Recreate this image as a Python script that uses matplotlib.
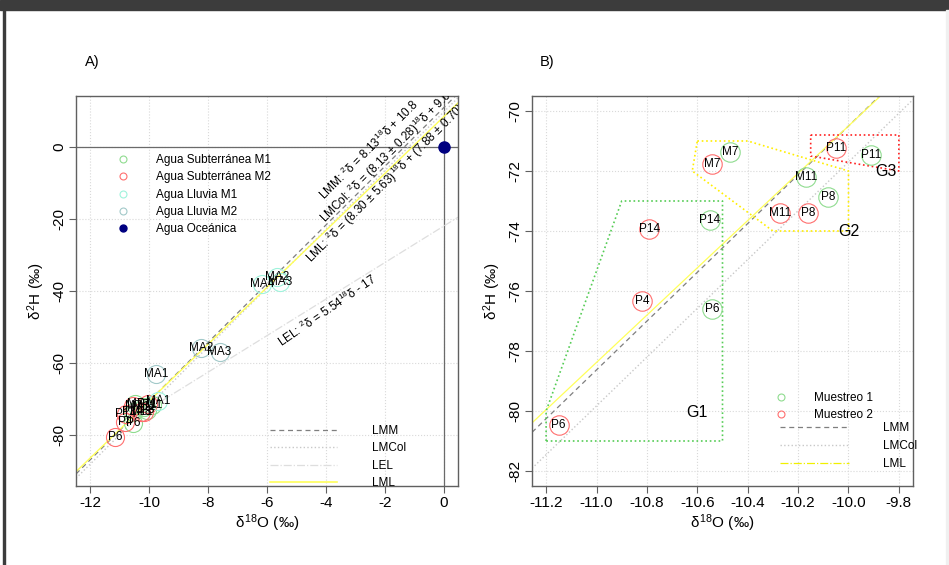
import matplotlib
matplotlib.use("Agg")
import matplotlib.pyplot as plt
from matplotlib.lines import Line2D
from matplotlib.patches import Rectangle
import numpy as np

plt.rcParams['font.family'] = ['Liberation Sans', 'DejaVu Sans']
plt.rcParams['mathtext.fontset'] = 'custom'
plt.rcParams['mathtext.rm'] = 'Liberation Sans'
plt.rcParams['mathtext.it'] = 'Liberation Sans'
plt.rcParams['axes.unicode_minus'] = False

# --- datos: agua subterranea (muestreo 1 y 2)
gw_m1_lab = ['M7', 'M11', 'P8', 'P11', 'P14', 'P6']
gw_m1_x = [-10.47, -10.17, -10.08, -9.91, -10.55, -10.54]
gw_m1_y = [-71.36, -72.19, -72.86, -71.47, -73.63, -76.6]

gw_m2_lab = ['M7', 'M11', 'P8', 'P11', 'P14', 'P4', 'P6']
gw_m2_x = [-10.54, -10.27, -10.16, -10.05, -10.79, -10.82, -11.15]
gw_m2_y = [-71.78, -73.39, -73.41, -71.24, -73.94, -76.32, -80.47]

# --- agua lluvia
rain_m1_lab = ['MA1', 'MA2', 'MA3', 'MA4']
rain_m1_x = [-9.69, -5.67, -5.56, -6.18]
rain_m1_y = [-70.4, -36.2, -37.5, -38.0]

rain_m2_lab = ['MA1', 'MA2', 'MA3']
rain_m2_x = [-9.76, -8.23, -7.61]
rain_m2_y = [-63.0, -55.7, -56.8]

# agua oceanica (VSMOW)
ocean_x = [0.0]
ocean_y = [0.0]

# rectas (pendiente, intercepto)
lmm = (8.13, 10.8)
lmcol = (8.13, 9.6)
lml = (7.88, 8.30)
lel = (5.06, -22.0)
lel_x0 = -10.3

# grupos (panel B)
g1_x = [-11.2, -11.2, -10.9, -10.5, -10.5, -11.2]
g1_y = [-81, -80, -73, -73, -81, -81]
g2_x = [-10.6, -10.4, -10.0, -10.0, -10.3, -10.62, -10.6]
g2_y = [-71, -71, -72, -74, -74, -72, -71]
g3_x = [-10.15, -9.8, -9.8, -10.15, -10.15]
g3_y = [-70.8, -70.8, -72, -71.5, -70.8]
grp_lab = ['G1', 'G2', 'G3']
grp_x = [-10.6, -10.0, -9.85]
grp_y = [-80.05, -74.02, -72.02]

c_m1 = '#8fdc8f'
c_m2 = '#ff6f6f'
c_r1 = '#9ff3dc'
c_r2 = '#a2c9c9'
c_lmm = '#7f7f7f'
c_lmcol = '#c8c8c8'
c_lel = '#dedede'
c_lml = '#ffff5a'

fig = plt.figure(figsize=(9.49, 5.65), dpi=100)
# marco de la ventana
fig.patches.append(Rectangle((0, 1 - 10 / 565), 1, 10 / 565, transform=fig.transFigure,
                             color='#3c3c3c', zorder=0))
fig.patches.append(Rectangle((3 / 949, 0), 2 / 949, 1, transform=fig.transFigure,
                             color='#3c3c3c', zorder=0))
fig.patches.append(Rectangle((946 / 949, 0), 3 / 949, 1 - 10 / 565, transform=fig.transFigure,
                             color='#f0f0f0', zorder=0))

axA = fig.add_axes([76 / 949, 1 - 486 / 565, 382 / 949, 390 / 565])
axB = fig.add_axes([532 / 949, 1 - 486 / 565, 381 / 949, 390 / 565])


def style(ax):
    for s in ax.spines.values():
        s.set_color('#606060')
        s.set_linewidth(1.0)
    ax.tick_params(direction='out', length=5, color='#606060', labelsize=11, pad=2)
    ax.tick_params(axis='y', labelrotation=90)
    for t in ax.get_yticklabels():
        t.set_va('center')
    ax.grid(True, color='#d9d9d9', linestyle=':', linewidth=0.8)
    ax.set_axisbelow(True)


def circles(ax, xs, ys, labs, col, ms=13, fs=8.5):
    ax.plot(xs, ys, 'o', mfc='none', mec=col, ms=ms, mew=0.8, ls='none', zorder=3)
    for x, y, l in zip(xs, ys, labs):
        ax.text(x, y, l, ha='center', va='center', fontsize=fs, zorder=4, clip_on=True)


# ---------------- Panel A
xa = np.array([-12.48, 0.48])
axA.set_xlim(xa)
axA.set_ylim(-94, 14)
axA.set_xticks([-12, -10, -8, -6, -4, -2, 0])
axA.set_yticks([-80, -60, -40, -20, 0])
axA.axhline(0, color='#6a6a6a', lw=0.9, zorder=1)
axA.axvline(0, color='#6a6a6a', lw=0.9, zorder=1)

axA.plot(xa, lmm[0] * xa + lmm[1], color=c_lmm, ls=(0, (4, 3)), lw=0.9)
axA.plot(xa, lmcol[0] * xa + lmcol[1], color=c_lmcol, ls=':', lw=1.0)
xe = np.array([lel_x0, 0.48])
axA.plot(xe, lel[0] * xe + lel[1], color=c_lel, ls='-.', lw=0.9)
axA.plot(xa, lml[0] * xa + lml[1], color=c_lml, ls='-', lw=1.0)

circles(axA, gw_m1_x, gw_m1_y, gw_m1_lab, c_m1)
circles(axA, gw_m2_x, gw_m2_y, gw_m2_lab, c_m2)
circles(axA, rain_m1_x, rain_m1_y, rain_m1_lab, c_r1)
circles(axA, rain_m2_x, rain_m2_y, rain_m2_lab, c_r2)
axA.plot(ocean_x, ocean_y, 'o', color='navy', ms=8, zorder=5, clip_on=False)

tk = dict(ha='center', va='center', fontsize=8.5, rotation_mode='anchor', clip_on=True)
axA.text(-2.53, -0.9, r'LMM: $^{2}\delta$ = 8.13$^{18}\delta$ + 10.8', rotation=45, **tk)
axA.text(-1.95, -2.85, r'LMCol: $^{2}\delta$ = (8.13 $\pm$ 0.28)$^{18}\delta$ + 9.6', rotation=45, **tk)
axA.text(-1.98, -10.3, r'LML: $^{2}\delta$ = (8.30 $\pm$ 5.63)$^{18}\delta$ + (7.88 $\pm$ 0.70)', rotation=45, **tk)
axA.text(-3.96, -45.5, r'LEL: $^{2}\delta$ = 5.54$^{18}\delta$ - 17', rotation=34.5, **tk)

axA.set_xlabel(r'$\delta^{18}$O (‰)', fontsize=11, labelpad=2)
axA.set_ylabel(r'$\delta^{2}$H (‰)', fontsize=11, labelpad=4)
style(axA)

pt_h = [Line2D([], [], marker='o', ls='none', mfc='none', mec=c, ms=5, mew=0.8)
        for c in [c_m1, c_m2, c_r1, c_r2]]
pt_h.append(Line2D([], [], marker='o', ls='none', color='navy', ms=5))
legA1 = axA.legend(pt_h, ['Agua Subterránea M1', 'Agua Subterránea M2', 'Agua Lluvia M1',
                          'Agua Lluvia M2', 'Agua Oceánica'],
                   loc='upper left', bbox_to_anchor=(0.099, 0.851), frameon=False,
                   fontsize=8.5, handlelength=1.5, handletextpad=2.1, labelspacing=0.45,
                   borderpad=0, borderaxespad=0)
axA.add_artist(legA1)
ln_h = [Line2D([], [], color=c_lmm, ls=(0, (4, 3)), lw=0.9),
        Line2D([], [], color=c_lmcol, ls=':', lw=1.0),
        Line2D([], [], color=c_lel, ls='-.', lw=0.9),
        Line2D([], [], color=c_lml, ls='-', lw=1.2)]
axA.legend(ln_h, ['LMM', 'LMCol', 'LEL', 'LML'], loc='upper left',
           bbox_to_anchor=(0.508, 0.156), frameon=False, fontsize=8.5,
           handlelength=5.7, handletextpad=2.9, labelspacing=0.45,
           borderpad=0, borderaxespad=0)

fig.text(85 / 949, 1 - 62 / 565, 'A)', fontsize=10.5, ha='left', va='center')

# ---------------- Panel B
xb = np.array([-11.256, -9.744])
axB.set_xlim(xb)
axB.set_ylim(-82.5, -69.5)
axB.set_xticks([-11.2, -11.0, -10.8, -10.6, -10.4, -10.2, -10.0, -9.8])
axB.set_xticklabels(['-11.2', '-11.0', '-10.8', '-10.6', '-10.4', '-10.2', '-10.0', '-9.8'])
axB.set_yticks([-82, -80, -78, -76, -74, -72, -70])

axB.plot(xb, lmm[0] * xb + lmm[1], color=c_lmm, ls=(0, (4, 3)), lw=0.9)
axB.plot(xb, lmcol[0] * xb + lmcol[1], color=c_lmcol, ls=':', lw=1.0)
axB.plot(xb, lml[0] * xb + lml[1], color=c_lml, ls='-', lw=0.9)

axB.plot(g1_x, g1_y, color='#55cc55', ls=':', lw=1.2)
axB.plot(g2_x, g2_y, color='#ffee00', ls=':', lw=1.2)
axB.plot(g3_x, g3_y, color='#ff2020', ls=':', lw=1.2)
for x, y, l in zip(grp_x, grp_y, grp_lab):
    axB.text(x, y, l, ha='center', va='center', fontsize=11.5)

circles(axB, gw_m1_x, gw_m1_y, gw_m1_lab, c_m1, ms=14)
circles(axB, gw_m2_x, gw_m2_y, gw_m2_lab, c_m2, ms=14)

axB.set_xlabel(r'$\delta^{18}$O (‰)', fontsize=11, labelpad=2)
axB.set_ylabel(r'$\delta^{2}$H (‰)', fontsize=11, labelpad=4)
style(axB)

mb_h = [Line2D([], [], marker='o', ls='none', mfc='none', mec=c, ms=5, mew=0.8)
        for c in [c_m1, c_m2]]
legB1 = axB.legend(mb_h, ['Muestreo 1', 'Muestreo 2'], loc='upper left',
                   bbox_to_anchor=(0.629, 0.241), frameon=False, fontsize=8.5,
                   handlelength=1.5, handletextpad=2.1, labelspacing=0.45,
                   borderpad=0, borderaxespad=0)
axB.add_artist(legB1)
lb_h = [Line2D([], [], color=c_lmm, ls=(0, (4, 3)), lw=0.9),
        Line2D([], [], color=c_lmcol, ls=':', lw=1.0),
        Line2D([], [], color='#f0f000', ls='-.', lw=0.9)]
axB.legend(lb_h, ['LMM', 'LMCol', 'LML'], loc='upper left',
           bbox_to_anchor=(0.651, 0.164), frameon=False, fontsize=8.5,
           handlelength=5.8, handletextpad=2.9, labelspacing=0.5,
           borderpad=0, borderaxespad=0)

fig.text(540 / 949, 1 - 62 / 565, 'B)', fontsize=10.5, ha='left', va='center')

fig.savefig('out.png', dpi=100)
